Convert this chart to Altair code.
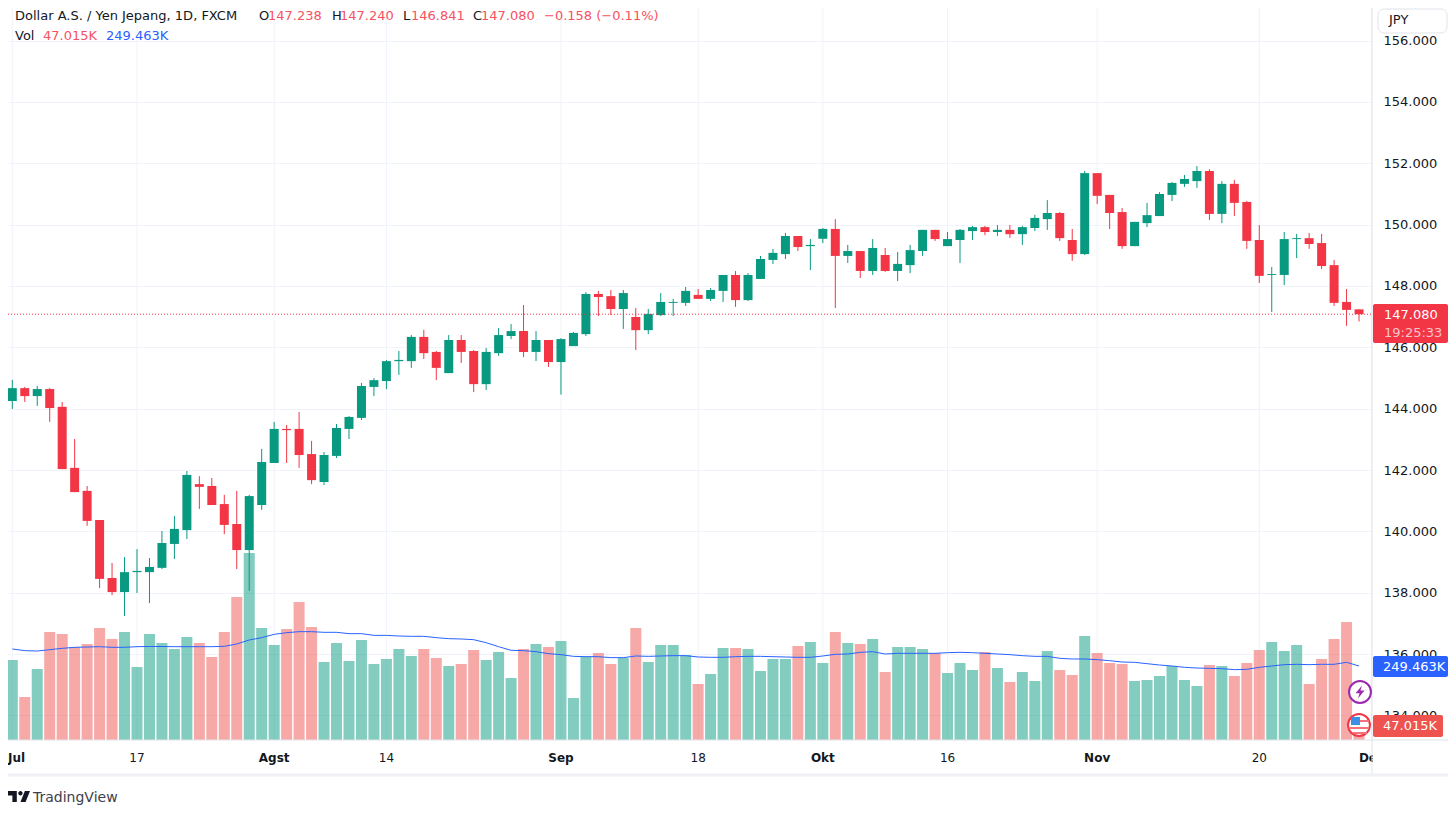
import altair as alt
import pandas as pd

opens = [144.25,144.67,144.41,144.64,144.06,142.07,141.32,140.37,138.48,138.02,138.67,138.67,138.81,139.59,140.04,141.54,141.48,140.89,140.24,139.39,140.86,142.23,143.34,143.34,142.52,141.61,142.46,143.34,143.70,144.71,144.90,145.55,145.55,146.34,145.85,145.16,146.24,145.88,144.80,145.81,146.37,146.53,145.85,146.24,145.52,146.04,146.43,147.74,147.67,147.25,146.99,146.56,147.05,147.45,147.45,147.71,147.58,147.84,148.36,147.54,148.23,148.85,149.04,149.63,149.30,149.54,149.86,148.98,149.14,148.49,149.01,148.49,148.68,149.14,149.83,149.30,149.50,149.79,149.92,149.76,149.83,149.69,149.89,150.18,150.38,149.50,149.04,151.68,150.97,150.41,149.30,150.05,150.28,150.97,151.33,151.42,151.75,150.35,151.33,150.74,149.50,148.36,148.36,149.53,149.56,149.40,148.68,147.48,147.238]
closes = [144.67,144.41,144.64,144.02,142.03,141.28,140.34,138.45,138.02,138.67,138.71,138.84,139.62,140.08,141.84,141.45,140.86,140.21,139.39,141.15,142.26,143.34,143.30,142.49,141.67,142.49,143.37,143.73,144.74,144.93,145.55,145.59,146.34,145.81,145.33,146.24,145.85,144.80,145.85,146.40,146.53,145.85,146.24,145.52,146.27,146.47,147.74,147.64,147.25,147.77,146.56,147.09,147.48,147.48,147.84,147.58,147.87,148.36,147.54,148.36,148.88,149.08,149.63,149.27,149.34,149.86,148.98,149.14,148.49,149.24,148.49,148.72,149.17,149.83,149.53,149.53,149.83,149.92,149.76,149.83,149.69,149.92,150.22,150.38,149.56,149.04,151.68,150.94,150.38,149.30,150.09,150.31,151.00,151.36,151.49,151.75,150.35,151.33,150.71,149.47,148.33,148.39,149.53,149.56,149.37,148.65,147.45,147.22,147.08]
highs = [144.94,144.71,144.74,144.67,144.22,143.01,141.48,140.37,138.97,139.16,139.42,139.13,140.01,140.50,141.97,141.80,141.74,141.19,141.32,141.19,142.69,143.57,143.47,143.89,142.95,142.59,143.50,143.76,144.84,145.00,145.59,145.88,146.40,146.57,145.88,146.40,146.40,145.91,145.98,146.63,146.76,147.38,146.53,146.24,146.30,146.50,147.80,147.84,147.87,147.87,147.28,147.25,147.77,147.58,147.97,147.90,147.93,148.36,148.49,148.42,148.98,149.21,149.73,149.63,149.53,149.89,150.18,149.34,149.14,149.53,149.24,149.11,149.34,149.83,149.83,149.76,149.86,149.96,149.96,149.99,149.99,149.96,150.32,150.80,150.41,149.86,151.75,151.68,150.97,150.54,150.09,150.71,151.06,151.39,151.62,151.91,151.81,151.42,151.46,150.77,149.99,148.62,149.76,149.70,149.73,149.70,148.85,147.90,147.24]
lows = [143.99,144.22,144.09,143.57,142.03,141.28,140.18,138.15,137.92,137.24,137.99,137.66,138.77,139.10,139.75,140.73,140.86,139.91,138.77,138.06,140.70,142.23,142.23,142.07,141.54,141.51,142.39,143.01,143.63,144.41,144.64,145.10,145.33,145.62,144.93,145.16,145.49,144.54,144.61,145.72,146.27,145.68,145.55,145.36,144.46,146.04,146.37,147.02,147.05,146.60,145.91,146.43,147.02,147.02,147.35,147.58,147.51,147.48,147.32,147.51,148.23,148.72,148.88,149.14,148.52,149.40,147.28,148.75,148.26,148.36,148.46,148.16,148.42,148.98,149.47,149.30,148.75,149.50,149.66,149.63,149.57,149.34,149.79,149.83,149.47,148.82,149.01,150.67,149.86,149.21,149.30,149.92,150.28,150.77,151.23,151.20,150.15,150.05,150.28,149.21,148.10,147.15,148.03,148.91,149.21,148.55,147.35,146.70,146.841]
volumes = [269.7,145.0,239.4,364.1,357.3,313.5,323.6,377.6,340.5,364.1,246.1,357.3,327.0,306.8,347.2,327.0,279.8,364.1,482.1,630.4,377.6,320.3,374.2,465.2,380.9,262.9,327.0,266.3,337.1,256.2,273.1,306.8,283.2,306.8,276.4,249.5,256.2,303.4,269.7,296.7,209.0,306.8,323.6,313.5,333.7,141.6,280.9,293.3,256.2,276.4,377.6,262.9,320.3,320.3,286.5,188.8,222.5,310.1,310.1,306.8,232.6,273.1,273.1,316.9,330.4,259.6,364.1,327.0,323.6,340.5,229.2,313.5,313.5,306.8,293.3,225.9,259.6,236.0,296.7,242.7,195.5,229.2,198.9,300.0,236.0,219.1,350.6,293.3,259.6,256.2,198.9,202.3,215.8,249.5,202.3,182.0,252.8,249.5,215.8,259.6,303.4,330.4,300.0,320.3,188.8,273.1,340.5,397.8,47.015]
vol_ma = [306.8,301.2,300.0,304.5,309.0,312.4,313.5,314.6,312.4,312.4,314.6,315.2,315.2,314.6,314.6,314.6,314.6,315.8,323.6,337.1,345.0,356.2,361.8,365.2,365.2,363.0,363.0,358.5,358.5,352.8,352.8,350.6,349.5,349.5,345.0,341.6,340.5,338.2,328.1,314.6,302.3,301.2,297.8,291.0,287.7,282.0,280.9,280.9,277.6,277.6,283.2,282.0,283.2,284.3,284.3,279.8,278.7,278.7,280.9,282.0,282.0,280.9,279.8,278.7,278.7,283.2,288.8,289.9,295.5,297.8,289.9,292.2,292.2,292.2,292.2,294.4,295.5,294.4,292.2,289.9,287.7,284.3,282.0,282.0,275.3,273.1,273.1,270.8,267.4,262.9,261.8,257.3,252.8,249.5,245.0,242.7,241.6,240.5,237.1,238.2,245.0,249.5,254.0,255.1,254.0,255.1,255.1,261.8,249.463]

price_ticks = [134, 136, 138, 140, 142, 144, 146, 148, 150, 152, 154, 156]
day_tick_pos = [10, 30, 55, 75, 100]
day_tick_text = ["17", "14", "18", "16", "20"]
month_tick_pos = [21, 44, 65, 87, 109]
month_tick_text = ["Agst", "Sep", "Okt", "Nov", "Des"]
grid_pos = [0] + day_tick_pos + month_tick_pos
last_price = 147.08

df = pd.DataFrame({"i": range(len(opens)), "open": opens, "close": closes, "high": highs,
                   "low": lows, "vol": volumes, "ma": vol_ma})

FONT = "DejaVu Sans"
GREEN, RED = "#089981", "#F23645"
VRED = "#ef5350"
BLUE = "#2962FF"
INK = "#131722"
GRID = "#f0f3fa"
LINE = "#e0e3eb"
TSIZE = 13

x_scale = alt.Scale(domain=[-0.345, 109.04], nice=False, zero=False, padding=0)
p_scale = alt.Scale(domain=[133.197, 157.064], nice=False, zero=False)
v_scale = alt.Scale(domain=[0, 2467.6], nice=False, zero=False)
X = alt.X("i:Q", scale=x_scale, axis=None)
is_up = alt.condition("datum.close >= datum.open", alt.value(GREEN), alt.value(RED))
is_up_vol = alt.condition("datum.close >= datum.open", alt.value(GREEN), alt.value(VRED))
base = alt.Chart(df)

y_axis = alt.Axis(values=price_ticks, format=".3f", orient="right", title=None, grid=True,
                  gridColor=GRID, gridWidth=1, ticks=False, domain=False, labelFont=FONT,
                  labelFontSize=TSIZE, labelColor=INK, labelPadding=11, labelOverlap=False,
                  labelBound=False, labelFlush=False)

v_grid = alt.Chart(pd.DataFrame({"i": grid_pos})).mark_rule(color=GRID, strokeWidth=1).encode(
    x=X, y=alt.value(0), y2=alt.value(732))
day_labels = alt.Chart(pd.DataFrame({"i": day_tick_pos, "t": day_tick_text})).mark_text(
    font=FONT, fontSize=TSIZE - 1, color=INK, baseline="middle").encode(
    x=X, y=alt.value(750), text="t:N")
month_labels = alt.Chart(pd.DataFrame({"i": month_tick_pos, "t": month_tick_text})).mark_text(
    font=FONT, fontSize=TSIZE - 1, fontWeight=700, color=INK, baseline="middle").encode(
    x=X, y=alt.value(750), text="t:N")

wicks = base.mark_rule(strokeWidth=1).encode(
    x=X, y=alt.Y("high:Q", scale=p_scale, axis=y_axis), y2="low:Q", color=is_up)
bodies = base.mark_bar(size=9).encode(
    x=X, y=alt.Y("open:Q", scale=p_scale, axis=None), y2="close:Q", color=is_up)
vol_bars = base.mark_bar(size=11, opacity=0.5).encode(
    x=X, y=alt.Y("vol:Q", scale=v_scale, axis=None), color=is_up_vol)
ma_line = base.mark_line(color=BLUE, strokeWidth=1).encode(
    x=X, y=alt.Y("ma:Q", scale=v_scale, axis=None))
one = alt.Data(values=[{"a": 1}])
last_rule = alt.Chart(one).mark_rule(color=RED, strokeWidth=1, strokeDash=[1, 2]).encode(
    x=alt.value(0), x2=alt.value(1364), y=alt.Y("p:Q", scale=p_scale, axis=None)
).transform_calculate(p=str(last_price))


def hline(y, x0, x1, color=LINE, w=1):
    return alt.Chart(one).mark_rule(color=color, strokeWidth=w).encode(
        x=alt.value(x0 - 8), x2=alt.value(x1 - 8), y=alt.value(y - 8))


def vline(x, y0, y1, color=LINE, w=1):
    return alt.Chart(one).mark_rule(color=color, strokeWidth=w).encode(
        x=alt.value(x - 8), y=alt.value(y0 - 8), y2=alt.value(y1 - 8))


def box(x0, x1, y0, y1, fill, radius=0, stroke=None):
    kw = {"stroke": stroke, "strokeWidth": 1} if stroke else {}
    return alt.Chart(one).mark_rect(color=fill, fill=fill, cornerRadius=radius, **kw).encode(
        x=alt.value(x0 - 8), x2=alt.value(x1 - 8), y=alt.value(y0 - 8), y2=alt.value(y1 - 8))


def txt(s, x, y, color=INK, size=TSIZE, weight=400, align="left"):
    return alt.Chart(one).mark_text(font=FONT, fontSize=size, fontWeight=weight, color=color,
                                    align=align, baseline="middle", text=s).encode(
        x=alt.value(x - 8), y=alt.value(y - 8))


def sym(shape, x, y, size, fill=None, stroke=None, w=0):
    kw = {}
    if stroke:
        kw.update(stroke=stroke, strokeWidth=w)
    return alt.Chart(one).mark_point(shape=shape, size=size, filled=True, fill=fill, opacity=1, **kw).encode(
        x=alt.value(x - 8), y=alt.value(y - 8))


TV_LOGO = ("M-1 -0.5L-0.2 -0.5L-0.2 0.5L-0.6 0.5L-0.6 -0.1L-1 -0.1Z"
           "M0.6 0.5L0.133 0.5L0.533 -0.5L1 -0.5Z"
           "M0.133 -0.1A0.2 0.2 0 1 0 0.133 -0.5A0.2 0.2 0 0 0 0.133 -0.1Z")
BOLT = "M0.25 -0.8L-0.55 0.15L-0.05 0.15L-0.25 0.8L0.55 -0.2L0.05 -0.2Z"

header_red = "#F7525F"
layers = [
    v_grid, vol_bars, ma_line, wicks, bodies, last_rule,
    day_labels, month_labels,
    # frame: the price panel hides the right half of the last date
    box(1373, 1456, 741, 774, "#ffffff"),
    hline(740, 8, 1456), vline(1372, 8, 775), hline(775, 8, 1456, "#eff1f6", 3),
    # header row 1
    txt("Dollar A.S. / Yen Jepang, 1D, FXCM", 15, 16),
    txt("O", 259, 16), txt("147.238", 268, 16, header_red),
    txt("H", 332, 16), txt("147.240", 340, 16, header_red),
    txt("L", 403, 16), txt("146.841", 411, 16, header_red),
    txt("C", 473, 16), txt("147.080", 481, 16, header_red),
    txt("\u22120.158 (\u22120.11%)", 544, 16, header_red),
    # header row 2
    txt("Vol", 15, 36), txt("47.015K", 43, 36, header_red), txt("249.463K", 106, 36, BLUE),
    # JPY button
    box(1378, 1447, 9, 33, "#ffffff", 6, LINE), txt("JPY", 1389, 20),
    # price tag
    box(1373, 1448, 304, 343, RED, 2),
    txt("147.080", 1384, 315, "#ffffff", TSIZE, 400),
    txt("19:25:33", 1384, 333, "#fbc4c9"),
    # volume tags
    box(1373, 1448, 656, 677, BLUE, 2), txt("249.463K", 1383, 667, "#ffffff", TSIZE, 400),
    sym("circle", 1360, 692, 480, "#ffffff", "#9C27B0", 2),
    sym(BOLT, 1360, 692, 260, "#9C27B0"),
    sym("circle", 1359, 725, 480, "#ffffff", RED, 2),
    box(1351, 1360, 717, 725, "#3d8fe6"),
    box(1360, 1369, 720, 722, "#f6707c"),
    box(1350, 1369, 727, 729, "#f6707c"),
    box(1353, 1367, 732, 734, "#f6707c"),
    box(1373, 1443, 715, 737, VRED, 2), txt("47.015K", 1383, 726, "#ffffff", TSIZE, 400),
    # the first date would fall off the drawing area when centred on its bar
    txt("Jul", 8, 758, INK, TSIZE - 1, 700),
    sym(TV_LOGO, 19, 796.5, 484, INK),
    txt("TradingView", 33, 798, "#3c404c", 14),
]

chart = alt.layer(*layers).resolve_scale(y="independent").properties(
    width=1364, height=732,
    padding={"left": 0, "top": 0, "right": 76, "bottom": 71},
    autosize=alt.AutoSizeParams(type="none"),
    background="#ffffff",
).configure_view(stroke=None)

chart.save("out.html", embed_options={"renderer": "svg", "actions": False})
